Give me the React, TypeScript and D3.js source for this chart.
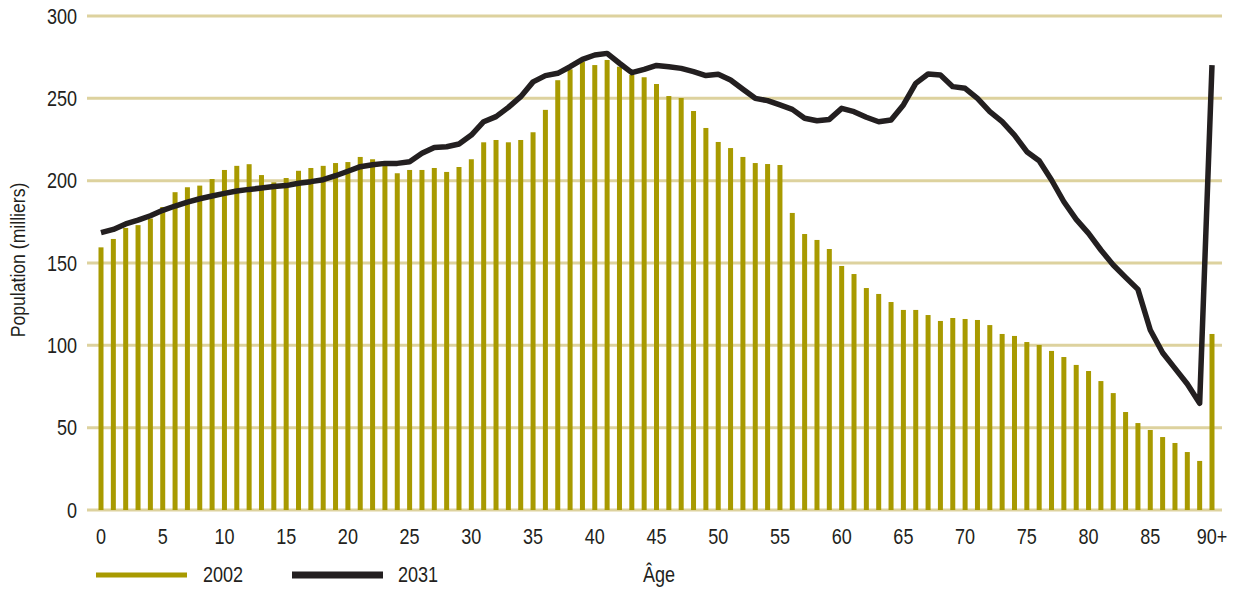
import React, { useEffect, useRef } from 'react';
import * as d3 from 'd3';

// age categories (0 .. 89, then 90+)
const ages: string[] = [...Array.from({ length: 90 }, (_, i) => String(i)), '90+'];

// population 2002 (milliers), one value per age
const pop2002: number[] = [
  159.5, 164.6, 171.3, 173, 177, 184, 193, 196, 197, 201,
  206.5, 209, 210, 203.4, 199, 201.6, 206, 207.7, 209, 210.7,
  211.3, 214.4, 213, 209, 204.5, 206.5, 206.5, 207.7, 205.3, 208.3,
  213, 223.3, 224.7, 223.3, 224.7, 229.4, 243, 261, 267.6, 272.3,
  270.2, 273.3, 269.2, 264.2, 262.8, 258.7, 251.4, 250.2, 242.3, 232,
  223.5, 219.8, 214.4, 210.7, 210.1, 209.5, 180.4, 167.6, 164, 158.5,
  148.2, 143.3, 134.8, 131.2, 126.3, 121.5, 121.5, 118.4, 114.8, 116.6,
  116, 115.4, 112.3, 106.9, 105.7, 102, 100.2, 96.6, 92.9, 88.1,
  84.4, 78.3, 71, 59.5, 52.8, 48.6, 44.3, 40.7, 35.2, 29.8,
  106.9,
];

// projected population 2031 (milliers)
const pop2031: number[] = [
  168.4, 170.4, 173.7, 176, 178.7, 182, 184.6, 187, 189, 190.7,
  192.3, 193.7, 194.7, 195.5, 196.4, 197, 198.4, 199.4, 200.6, 203,
  205.7, 208.5, 209.7, 210.5, 210.5, 211.5, 216.6, 220.2, 220.6, 222.3,
  227.7, 235.8, 238.9, 244.5, 251, 260, 263.8, 265.2, 269.2, 273.7,
  276.3, 277.3, 271.3, 265.6, 267.6, 270, 269.2, 268.2, 266.2, 263.8,
  264.6, 261.1, 255.5, 250, 248.6, 246, 243.3, 237.9, 236.4, 237.2,
  243.9, 241.9, 238.5, 235.8, 236.8, 246, 259.1, 264.8, 264.2, 257.1,
  256.1, 250, 241.9, 235.8, 227.7, 217.6, 212.1, 200.4, 187.2, 176.5,
  168, 157.9, 148.8, 141.3, 134, 109.3, 95.5, 86, 76.5, 64.8,
  270.2,
];

const yTicks: number[] = [0, 50, 100, 150, 200, 250, 300];
const xTickLabels: string[] = ['0', '5', '10', '15', '20', '25', '30', '35', '40', '45', '50', '55', '60', '65', '70', '75', '80', '85', '90+'];

// no condensed face installed: squeeze Liberation Sans horizontally
const FONT = "'Liberation Sans', Arial, sans-serif";
const SQUEEZE = 0.84;
const OLIVE = '#a89a00';
const DARK = '#231f20';
const GRID = '#ddd29e';

const App = () => {
  const ref = useRef<SVGSVGElement>(null);

  useEffect(() => {
    const svg = d3.select(ref.current);
    svg.selectAll('*').remove();

    const x = d3.scalePoint<string>().domain(ages).range([101, 1212]);
    const y = d3.scaleLinear().domain([0, 300]).range([510, 16]);

    const label = (g: any, tx: number, ty: number, txt: string, anchor = 'start', size = 21.5, rot = 0) =>
      g.append('text')
        .attr('transform', `translate(${tx},${ty}) rotate(${rot}) scale(${SQUEEZE},1)`)
        .attr('text-anchor', anchor)
        .attr('font-family', FONT)
        .attr('font-size', size)
        .attr('fill', DARK)
        .text(txt);

    // gridlines
    svg.append('g')
      .selectAll('line')
      .data(yTicks)
      .enter()
      .append('line')
        .attr('x1', 87)
        .attr('x2', 1222)
        .attr('y1', d => y(d))
        .attr('y2', d => y(d))
        .attr('stroke', GRID)
        .attr('stroke-width', 3);

    // y tick labels
    const yl = svg.append('g');
    yTicks.forEach(d => label(yl, 77, y(d) + 7.5, String(d), 'end'));

    // 2002 bars
    const bw = 5;
    svg.append('g')
      .selectAll('rect')
      .data(pop2002)
      .enter()
      .append('rect')
        .attr('x', (d, i) => (x(ages[i]) as number) - bw / 2)
        .attr('y', d => y(d))
        .attr('width', bw)
        .attr('height', d => y(0) - y(d))
        .attr('fill', OLIVE);

    // 2031 line
    const line = d3.line<number>()
      .x((d, i) => x(ages[i]) as number)
      .y(d => y(d));
    svg.append('path')
      .datum(pop2031)
      .attr('d', line)
      .attr('fill', 'none')
      .attr('stroke', DARK)
      .attr('stroke-width', 5.5)
      .attr('stroke-linejoin', 'round');

    // x tick labels
    const xl = svg.append('g');
    xTickLabels.forEach(d => label(xl, x(d) as number, 544, d, 'middle'));

    // y axis title
    label(svg, 25, 260, 'Population (milliers)', 'middle', 21, -90);

    // legend
    const legend = svg.append('g');
    legend.append('line')
      .attr('x1', 96).attr('x2', 187).attr('y1', 575).attr('y2', 575)
      .attr('stroke', OLIVE).attr('stroke-width', 5);
    label(legend, 203, 582, '2002');
    legend.append('line')
      .attr('x1', 292).attr('x2', 383).attr('y1', 575).attr('y2', 575)
      .attr('stroke', DARK).attr('stroke-width', 7);
    label(legend, 398, 582, '2031');
    label(legend, 643, 582, 'Âge');
  }, []);

  return (
    <svg
      ref={ref}
      width={1238}
      height={590}
      style={{ position: 'absolute', left: 0, top: 0, background: '#fff' }}
    />
  );
};

export default App;
